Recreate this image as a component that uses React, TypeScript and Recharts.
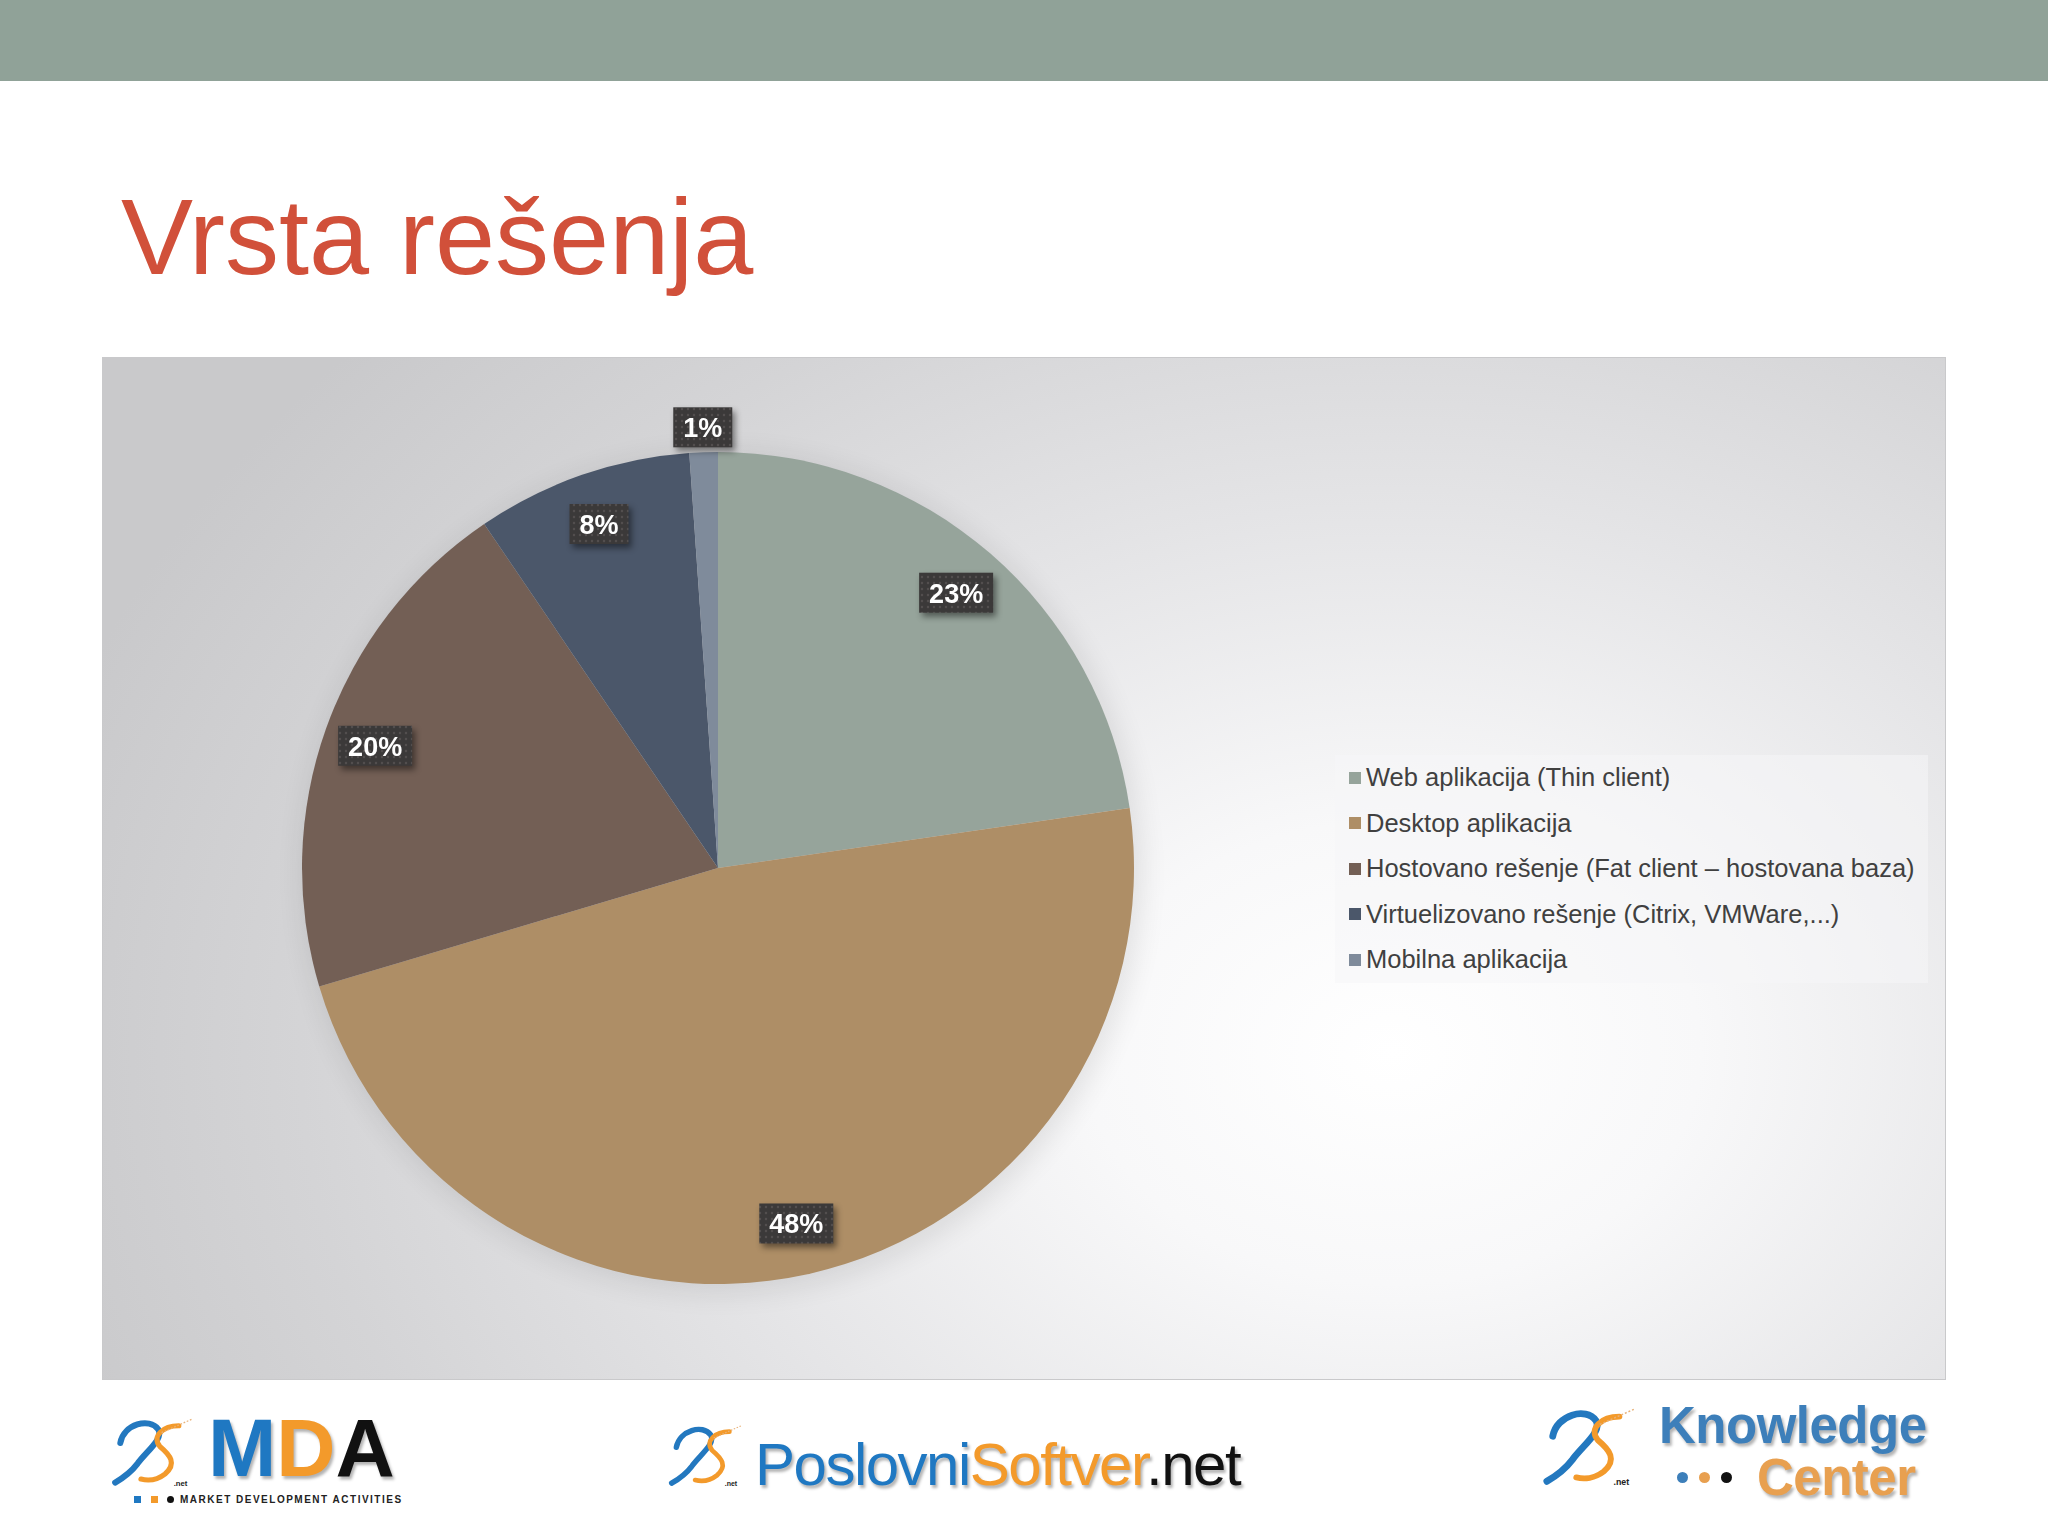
import React from 'react'
import { PieChart, Pie, Cell, Legend } from 'recharts'

const categories = [
  'Web aplikacija (Thin client)',
  'Desktop aplikacija',
  'Hostovano rešenje (Fat client – hostovana baza)',
  'Virtuelizovano rešenje (Citrix, VMWare,...)',
  'Mobilna aplikacija',
]
const shares = [22.7, 47.7, 20.1, 8.4, 1.1]
const sliceColors = ['#96a49b', '#ae8e66', '#735f55', '#4b576a', '#7f8b9b']

const data = categories.map((name, i) => ({ name, value: shares[i] }))

const FONT = "'Liberation Sans', Arial, sans-serif"
const RADIAN = Math.PI / 180

// dark dotted box with white % text, like the Excel data labels
function renderLabel(props: any) {
  const { cx, cy, midAngle, outerRadius, percent } = props
  const r = outerRadius * (percent < 0.03 ? 1.06 : 0.875)
  const x = cx + r * Math.cos(-midAngle * RADIAN)
  const y = cy + r * Math.sin(-midAngle * RADIAN)
  const text = `${Math.round(percent * 100)}%`
  const w = (text.length - 1) * 15 + 24 + 20
  const h = 40
  return (
    <g>
      <rect
        x={x - w / 2}
        y={y - h / 2}
        width={w}
        height={h}
        fill="url(#labelDots)"
        style={{ filter: 'drop-shadow(3px 4px 3px rgba(0,0,0,0.45))' }}
      />
      <text
        x={x}
        y={y + 1}
        textAnchor="middle"
        dominantBaseline="central"
        fill="#ffffff"
        fontSize={27}
        fontWeight="bold"
        fontFamily={FONT}
      >
        {text}
      </text>
    </g>
  )
}

// legend keeps the category order of the data
function renderLegend() {
  return (
    <div style={{ background: 'rgba(246,246,248,0.55)', width: 593, boxSizing: 'border-box', paddingLeft: 14 }}>
      {categories.map((name, i) => (
        <div key={name} style={{ display: 'flex', alignItems: 'center', height: 45.5 }}>
          <span style={{ width: 12, height: 12, background: sliceColors[i], marginRight: 5, display: 'inline-block' }} />
          <span style={{ fontSize: 25.5, color: '#404040', fontFamily: FONT, whiteSpace: 'nowrap' }}>{name}</span>
        </div>
      ))}
    </div>
  )
}

function Swoosh({ left, top, w, h }: { left: number; top: number; w: number; h: number }) {
  return (
    <svg width={w} height={h} viewBox="0 0 100 85" style={{ position: 'absolute', left, top }}>
      <path d="M12 32 C 16 10, 46 2, 56 16 C 63 27, 42 42, 32 56 C 26 64, 18 71, 6 78" stroke="#2378bf" strokeWidth={7} fill="none" strokeLinecap="round" />
      <path d="M80 12 C 62 12, 48 24, 58 36 C 70 46, 78 56, 64 68 C 55 75, 44 76, 36 74" stroke="#f39a2b" strokeWidth={6} fill="none" strokeLinecap="round" />
      <path d="M60 20 L 96 4" stroke="#e8b27a" strokeWidth={1.5} strokeDasharray="2 2" />
      <text x={74} y={82} fontSize={9} fontWeight="bold" fill="#222" fontFamily={FONT}>.net</text>
    </svg>
  )
}

const dot = (left: number, top: number, size: number, color: string, round: boolean) => (
  <div style={{ position: 'absolute', left, top, width: size, height: size, background: color, borderRadius: round ? '50%' : 0 }} />
)

const logoShadow = '2px 3px 3px rgba(0,0,0,0.3)'

export default function App() {
  return (
    <div style={{ position: 'absolute', left: 0, top: 0, width: 2048, height: 1536, background: '#ffffff', overflow: 'hidden', fontFamily: FONT }}>
      <style>{`.pie-shadow { filter: blur(10px); opacity: 0.3; }`}</style>
      <svg width={0} height={0} style={{ position: 'absolute' }}>
        <defs>
          <pattern id="labelDots" width={6} height={6} patternUnits="userSpaceOnUse">
            <rect width={6} height={6} fill="#3b3939" />
            <circle cx={3} cy={3} r={1.2} fill="#524e4e" />
          </pattern>
        </defs>
      </svg>

      <div style={{ position: 'absolute', left: 0, top: 0, width: 2048, height: 81, background: '#90a298' }} />

      <div style={{ position: 'absolute', left: 121, top: 183, fontSize: 108, lineHeight: 1, color: '#d1503a', whiteSpace: 'nowrap' }}>
        Vrsta rešenja
      </div>

      <div
        style={{
          position: 'absolute', left: 102, top: 357, width: 1844, height: 1023, boxSizing: 'border-box',
          border: '1px solid #c9c9cb',
          background: 'radial-gradient(1400px 1050px at 70% 68%, #ffffff 0%, #f8f8f9 22%, #e4e4e6 52%, #d4d4d6 78%, #c9c9cb 100%)',
        }}
      >
        <PieChart width={1842} height={1021} margin={{ top: 0, right: 0, bottom: 0, left: 0 }}>
          <Pie
            data={data}
            dataKey="value"
            nameKey="name"
            cx={619}
            cy={515}
            outerRadius={420}
            startAngle={90}
            endAngle={-270}
            fill="#000000"
            stroke="none"
            className="pie-shadow"
            legendType="none"
            isAnimationActive={false}
          />
          <Pie
            data={data}
            dataKey="value"
            nameKey="name"
            cx={615}
            cy={510}
            outerRadius={416}
            startAngle={90}
            endAngle={-270}
            stroke="none"
            label={renderLabel}
            labelLine={false}
            isAnimationActive={false}
          >
            {data.map((d, i) => (
              <Cell key={d.name} fill={sliceColors[i]} />
            ))}
          </Pie>
          <Legend
            layout="vertical"
            align="right"
            verticalAlign="middle"
            content={renderLegend}
            wrapperStyle={{ left: 1232, top: 397, width: 593 }}
          />
        </PieChart>
      </div>

      {/* footer logos */}
      <Swoosh left={110} top={1415} w={86} h={74} />
      <div style={{ position: 'absolute', left: 208, top: 1407, fontSize: 82, fontWeight: 'bold', lineHeight: 1, textShadow: logoShadow, whiteSpace: 'nowrap' }}>
        <span style={{ color: '#1f78c2' }}>M</span>
        <span style={{ color: '#f39a2b' }}>D</span>
        <span style={{ color: '#111111' }}>A</span>
      </div>
      {dot(134, 1496, 7, '#1f78c2', false)}
      {dot(151, 1496, 7, '#f39a2b', false)}
      {dot(167, 1496, 7, '#111111', true)}
      <div style={{ position: 'absolute', left: 180, top: 1495, fontSize: 10, fontWeight: 'bold', lineHeight: 1, letterSpacing: 1.5, color: '#222', whiteSpace: 'nowrap' }}>
        MARKET DEVELOPMENT ACTIVITIES
      </div>

      <Swoosh left={667} top={1422} w={78} h={67} />
      <div style={{ position: 'absolute', left: 755, top: 1435, fontSize: 60, lineHeight: 1, letterSpacing: -1.5, textShadow: logoShadow, whiteSpace: 'nowrap' }}>
        <span style={{ color: '#1f78c2' }}>Poslovni</span>
        <span style={{ color: '#f39a2b' }}>Softver</span>
        <span style={{ color: '#111111' }}>.net</span>
      </div>

      <Swoosh left={1541} top={1404} w={98} h={85} />
      <div style={{ position: 'absolute', left: 1659, top: 1400, fontSize: 51, fontWeight: 'bold', lineHeight: 1, letterSpacing: -0.5, color: '#3d7fba', textShadow: logoShadow, whiteSpace: 'nowrap' }}>
        Knowledge
      </div>
      {dot(1677, 1472, 11, '#3d7fba', true)}
      {dot(1699, 1472, 11, '#e8a050', true)}
      {dot(1721, 1472, 11, '#111111', true)}
      <div style={{ position: 'absolute', left: 1757, top: 1452, fontSize: 51, fontWeight: 'bold', lineHeight: 1, letterSpacing: -0.5, color: '#e8a050', textShadow: logoShadow, whiteSpace: 'nowrap' }}>
        Center
      </div>
    </div>
  )
}
